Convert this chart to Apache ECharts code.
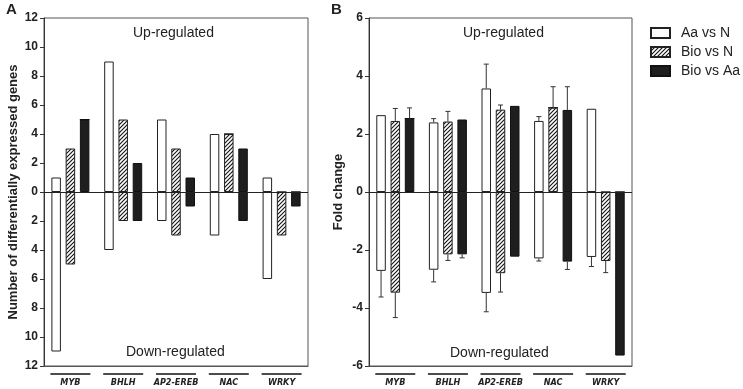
<!DOCTYPE html>
<html>
<head>
<meta charset="utf-8">
<script src="https://cdn.jsdelivr.net/npm/echarts@6/dist/echarts.min.js"></script>
<style>
  html, body { margin: 0; padding: 0; background: #fff; }
  #chart { width: 743px; height: 389px; }
</style>
</head>
<body>
<div id="chart"></div>
<script>
// 数据
const categories = ["MYB", "BHLH", "AP2-EREB", "NAC", "WRKY"];
const seriesNames = ["Aa vs N", "Bio vs N", "Bio vs Aa"];

// A: 差异表达基因数
const upAa = [1, 9, 5, 4, 1];
const upBioN = [3, 5, 3, 4, 0];
const upBioAa = [5, 2, 1, 3, 0];
const downAa = [11, 4, 2, 3, 6];
const downBioN = [5, 2, 3, 0, 3];
const downBioAa = [0, 2, 1, 2, 1];

// B: fold change 及误差
const fcUpAa = [2.65, 2.40, 3.57, 2.45, 2.87];
const fcUpBioN = [2.45, 2.43, 2.84, 2.91, 0];
const fcUpBioAa = [2.53, 2.50, 2.97, 2.83, 0];
const fcDownAa = [-2.72, -2.68, -3.48, -2.29, -2.24];
const fcDownBioN = [-3.47, -2.15, -2.80, 0, -2.38];
const fcDownBioAa = [0, -2.15, -2.23, -2.40, -5.64];
const errUpAa = [0, 0.13, 0.84, 0.15, 0];
const errUpBioN = [0.43, 0.35, 0.16, 0.72, 0];
const errUpBioAa = [0.37, 0, 0, 0.80, 0];
const errDownAa = [0.90, 0.42, 0.65, 0.09, 0.33];
const errDownBioN = [0.86, 0.21, 0.65, 0, 0.40];
const errDownBioAa = [0, 0.12, 0, 0.27, 0];

const ticksA = [-12, 12, 2];
const ticksB = [-6, 6, 2];

const font = "'Liberation Sans', Arial, sans-serif";
const barW = 9.5;
const slot = 14.25;

// 斜线填充
function hatch() {
    let c = document.createElement("canvas");
    c.width = 4; c.height = 4;
    let ctx = c.getContext("2d");
    ctx.fillStyle = "#fff";
    ctx.fillRect(0, 0, 4, 4);
    ctx.strokeStyle = "#111";
    ctx.lineWidth = 1.1;
    ctx.beginPath();
    ctx.moveTo(-1, 5); ctx.lineTo(5, -1);
    ctx.moveTo(-1, 1); ctx.lineTo(1, -1);
    ctx.moveTo(3, 5); ctx.lineTo(5, 3);
    ctx.stroke();
    return { image: c, repeat: "repeat" };
}

const styles = [
    { color: "#fff", borderColor: "#222", borderWidth: 1 },
    { color: hatch(), borderColor: "#222", borderWidth: 1 },
    { color: "#1e1e1e", borderColor: "#111", borderWidth: 1 },
];

function bars(idx, name, stack, data, i) {
    return {
        type: "bar", name: name, stack: stack + idx, data: data,
        xAxisIndex: idx, yAxisIndex: idx,
        barWidth: barW, barGap: "50%",
        itemStyle: styles[i],
        emphasis: { disabled: true },
    };
}

function zeroLine() {
    return {
        silent: true, symbol: "none",
        lineStyle: { color: "#222", width: 1.2, type: "solid" },
        label: { show: false },
        data: [{ yAxis: 0 }],
    };
}

let series = [];
const upA = [upAa, upBioN, upBioAa];
const downA = [downAa, downBioN, downBioAa];
const upB = [fcUpAa, fcUpBioN, fcUpBioAa];
const downB = [fcDownAa, fcDownBioN, fcDownBioAa];
const errUp = [errUpAa, errUpBioN, errUpBioAa];
const errDown = [errDownAa, errDownBioN, errDownBioAa];

for (let i = 0; i < 3; i++) {
    series.push(bars(0, seriesNames[i], "s" + i, upA[i], i));
    series.push(bars(0, seriesNames[i], "s" + i, downA[i].map(v => -v), i));
    series.push(bars(1, seriesNames[i], "s" + i, upB[i], i));
    series.push(bars(1, seriesNames[i], "s" + i, downB[i], i));
}
series[0].markLine = zeroLine();
series[2].markLine = zeroLine();

// 误差线
let errData = [];
for (let i = 0; i < 3; i++) {
    categories.forEach((c, k) => {
        if (errUp[i][k] > 0) errData.push([k, upB[i][k], upB[i][k] + errUp[i][k], i]);
        if (errDown[i][k] > 0) errData.push([k, downB[i][k], downB[i][k] - errDown[i][k], i]);
    });
}
series.push({
    type: "custom", name: "err", xAxisIndex: 1, yAxisIndex: 1,
    data: errData, silent: true, z: 3,
    encode: { x: 0, y: [1, 2] },
    renderItem: (params, api) => {
        let base = api.coord([api.value(0), api.value(1)]);
        let end = api.coord([api.value(0), api.value(2)]);
        let x = base[0] + (api.value(3) - 1) * slot;
        let st = { stroke: "#333", lineWidth: 1 };
        return {
            type: "group",
            children: [
                { type: "line", shape: { x1: x, y1: base[1], x2: x, y2: end[1] }, style: st },
                { type: "line", shape: { x1: x - 2.5, y1: end[1], x2: x + 2.5, y2: end[1] }, style: st },
            ],
        };
    },
});

function xAxis(idx) {
    return {
        type: "category", gridIndex: idx, data: categories,
        axisLine: { onZero: false, lineStyle: { color: "#555", width: 1 } },
        axisTick: { inside: true, length: 3, lineStyle: { color: "#999" } },
        axisLabel: {
            interval: 0, margin: 5,
            formatter: v => "{ln|}\n{t|" + v + "}",
            rich: {
                ln: { width: 40, height: 1.5, lineHeight: 6, backgroundColor: "#111" },
                t: {
                    fontSize: 9, fontStyle: "italic", fontWeight: "bold", color: "#222",
                    fontFamily: "'Liberation Sans Narrow', 'DejaVu Sans Condensed', " + font,
                    lineHeight: 12,
                },
            },
        },
    };
}

function yAxis(idx, t, name, gap, fmt) {
    return {
        type: "value", gridIndex: idx, min: t[0], max: t[1], interval: t[2],
        name: name, nameLocation: "middle", nameGap: gap,
        nameTextStyle: { fontFamily: font, fontWeight: "bold", fontSize: 13, color: "#222" },
        axisLine: { show: true, lineStyle: { color: "#333", width: 1 } },
        axisTick: { show: true, length: 4, lineStyle: { color: "#333" } },
        axisLabel: { fontFamily: font, fontWeight: "bold", fontSize: 12, color: "#222", margin: 6, formatter: fmt },
        splitLine: { show: false },
    };
}

function txt(x, y, s, size, bold) {
    return {
        type: "text", left: x, top: y,
        style: { text: s, fontFamily: font, fontSize: size, fontWeight: bold ? "bold" : "normal", fill: "#222" },
    };
}

let chart = echarts.init(document.getElementById("chart"), null, { renderer: "canvas" });
chart.setOption({
    backgroundColor: "#fff",
    animation: false,
    grid: [
        { left: 44, top: 18, width: 264, height: 348, show: true, borderColor: "#555", borderWidth: 1, backgroundColor: "transparent" },
        { left: 369, top: 18, width: 263, height: 348, show: true, borderColor: "#555", borderWidth: 1, backgroundColor: "transparent" },
    ],
    legend: {
        data: seriesNames, orient: "vertical", left: 645, top: 21,
        icon: "rect", itemWidth: 19, itemHeight: 10, itemGap: 5,
        textStyle: { fontFamily: font, fontSize: 14, color: "#222", padding: [0, 0, 0, 6] },
        selectedMode: false,
    },
    xAxis: [xAxis(0), xAxis(1)],
    yAxis: [
        yAxis(0, ticksA, "Number of differentially expressed genes", 24, v => Math.abs(v)),
        yAxis(1, ticksB, "Fold change", 24, v => v),
    ],
    graphic: [
        txt(6, 2, "A", 15, true),
        txt(331, 2, "B", 15, true),
        txt(133, 26, "Up-regulated", 14, false),
        txt(126, 345, "Down-regulated", 14, false),
        txt(463, 26, "Up-regulated", 14, false),
        txt(450, 346, "Down-regulated", 14, false),
    ],
    series: series,
});
</script>
</body>
</html>
